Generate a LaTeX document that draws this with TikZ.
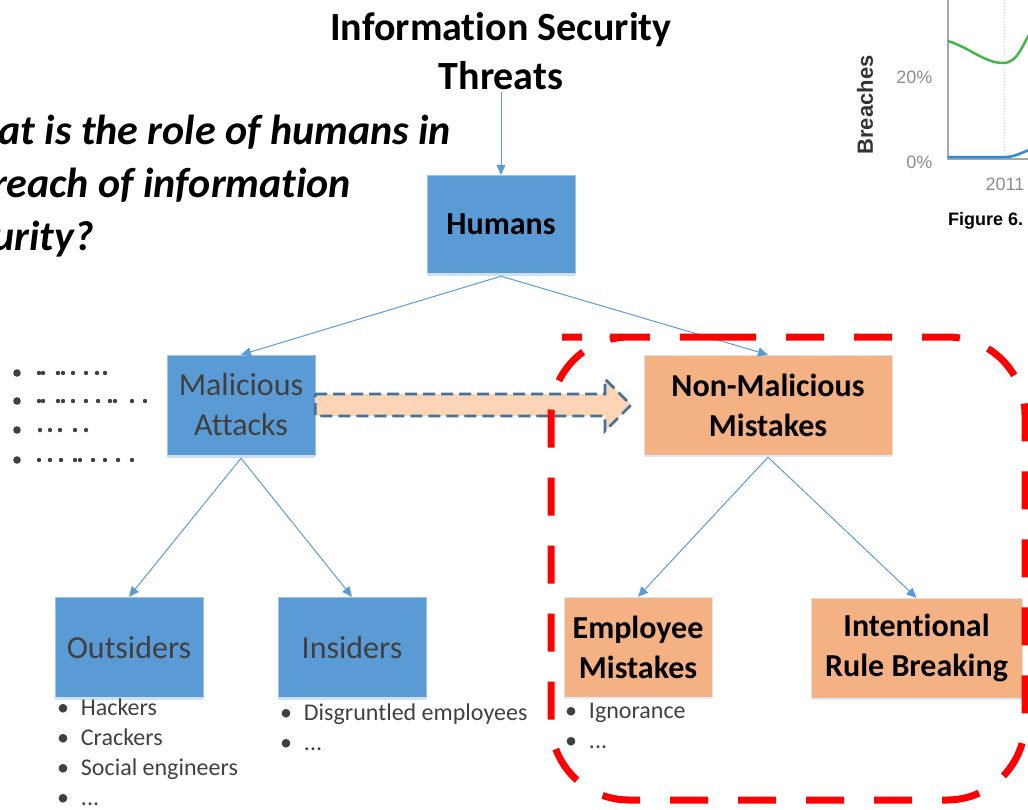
\documentclass[tikz,border=0pt]{standalone}
\usepackage{fontspec}
\setmainfont{Carlito}[RawFeature={-liga;-clig}]
\newfontfamily\chartfont{Liberation Sans}
\usetikzlibrary{calc,arrows.meta}

\definecolor{boxblue}{HTML}{5B9BD5}
\definecolor{boxorange}{HTML}{F4B183}
\definecolor{arrowfill}{HTML}{FBD5B5}
\definecolor{arrowline}{HTML}{41719C}
\definecolor{textgray}{HTML}{404040}
\definecolor{axisgray}{HTML}{A6A6A6}
\definecolor{curvegreen}{HTML}{45B649}
\definecolor{curveblue}{HTML}{2A8BD8}

\newcommand{\fs}[2]{\fontsize{#1}{#2}\selectfont}
\newcommand{\itm}[1]{\textbullet\hspace{12pt}#1}

\begin{document}
\begin{tikzpicture}[x=1pt,y=-1pt,
  box/.style={minimum height=100pt,inner sep=0pt,align=center,font=\fs{32}{40}},
  bluebox/.style={box,fill=boxblue,draw=boxblue!60!white,text=textgray},
  orangebox/.style={box,fill=boxorange,draw=black!12,font=\fs{32}{40}\bfseries},
  link/.style={draw=boxblue,line width=1pt,-{Triangle[length=10pt,width=9pt]}},
  lst/.style={anchor=north west,inner sep=0pt,align=left,text=textgray,font=\fs{24}{30}},
  dot/.style={fill=textgray}
]
\useasboundingbox (0,0) rectangle (1028,809);
\clip (0,0) rectangle (1028,809);

% chart corner
\begin{scope}[font=\chartfont]
\draw[black!15,dotted,line width=1pt] (1004,0) -- (1004,159);
\draw[axisgray,line width=2pt] (948,0) -- (948,159) -- (1030,159);
\draw[curvegreen,line width=2.5pt] (948,41) .. controls (970,48) and (985,63) .. (1003,63)
  .. controls (1018,63) and (1022,45) .. (1032,30);
\draw[curveblue,line width=2.5pt] (948,157) -- (1005,157) .. controls (1015,157) and (1020,153) .. (1032,149);
\node[rotate=90,font=\chartfont\fs{22}{26}\bfseries,text=black!80] (ylab) at (865,105) {Breaches};
\node[anchor=east,text=black!45,font=\chartfont\fs{18}{22}] (t20) at (936,77) {20\%};
\node[anchor=east,text=black!45,font=\chartfont\fs{18}{22}] (t0) at (936,162) {0\%};
\node[text=black!45,font=\chartfont\fs{18}{22}] (t2011) at (1005,184) {2011};
\node[anchor=west,inner sep=0pt,font=\chartfont\fs{18}{22}\bfseries] (fig) at (948,221) {Figure 6.};
\end{scope}

% question
\node[anchor=base west,align=left,inner sep=0pt,font=\fs{42}{53}\bfseries\itshape] (quest) at (-62,250)
  {What is the role of humans in\\a breach of information\\security?};

% tree
\node[anchor=base,align=center,inner sep=3pt,font=\fs{40}{49}\bfseries] (title) at (501,89) {Information Security\\Threats};
\node[bluebox,minimum width=148pt,minimum height=98pt,font=\fs{32}{40}\bfseries,text=black] (hum) at (501,224) {Humans};
\node[bluebox,minimum width=148pt] (mal) at (241,405) {Malicious\\Attacks};
\node[orangebox,minimum width=248pt] (non) at (768,405) {Non-Malicious\\Mistakes};
\node[bluebox,minimum width=148pt] (out) at (129,647) {Outsiders};
\node[bluebox,minimum width=148pt] (ins) at (352,647) {Insiders};
\node[orangebox,minimum width=148pt] (emp) at (638,647) {Employee\\Mistakes};
\node[orangebox,minimum width=211pt] (rule) at (916.5,648) {Intentional\\Rule Breaking};

\foreach \b in {hum,mal,out,ins}
  \fill[boxblue!30] (\b.south west) rectangle ([yshift=-3pt]\b.south east);
\foreach \b in {non,emp,rule}
  \fill[boxblue!20] (\b.south west) rectangle ([yshift=-2pt]\b.south east);

\draw[link] (title) -- (hum);
\draw[link] ([yshift=-3pt]hum.south) -- (mal.north);
\draw[link] ([yshift=-3pt]hum.south) -- (non.north);
\draw[link] ([yshift=-3pt]mal.south) -- (out.north);
\draw[link] ([yshift=-3pt]mal.south) -- (ins.north);
\draw[link] ([yshift=-2pt]non.south) -- (emp.north);
\draw[link] ([yshift=-2pt]non.south) -- (rule.north);

% lists
\node[lst] (outl) at ($(out.south west)+(2,1)$) {\itm{Hackers}\\\itm{Crackers}\\\itm{Social engineers}\\\itm{...}};
\node[lst] (insl) at ($(ins.south west)+(2,6)$) {\itm{Disgruntled employees}\\\itm{...}};
\node[lst] (empl) at ($(emp.south west)+(1,6)$) {\itm{Ignorance}\\\itm{...}};

\foreach \y/\xs in {373/{39,43,58,63,73,86,97,105},
                    401/{39,43,58,63,73,86,98,110,115,132,145},
                    430/{40,50,60,75,86},
                    460/{39,50,61,75,80,93,105,118,132}} {
  \fill[dot] (17,\y) circle[radius=3.8pt];
  \foreach \x in \xs \fill[dot] (\x,\y) circle[radius=2.2pt];
}

% shift arrow
\coordinate (tip) at (631,405);
\draw[arrowline,fill=arrowfill,line width=2.8pt,dash pattern=on 12pt off 6pt]
  ($(mal.east)+(0,-11)$) -- ($(tip)+(-26,-11)$) -- ($(tip)+(-26,-26)$) -- (tip)
  -- ($(tip)+(-26,26)$) -- ($(tip)+(-26,11)$) -- ($(mal.east)+(0,11)$) -- cycle;

% focus region
\draw[red,line width=7pt,dash pattern=on 38pt off 30pt,rounded corners=78pt]
  (640,337) -- (1025,337) -- (1025,800) -- (551,800) -- (551,337) -- cycle;
\end{tikzpicture}
\end{document}
